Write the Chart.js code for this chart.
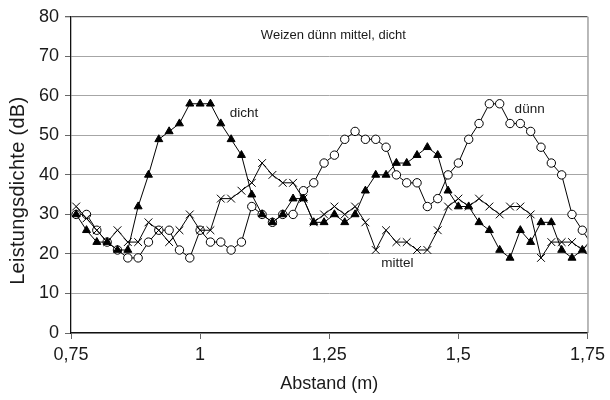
<!DOCTYPE html>
<html>
<head>
<meta charset="utf-8">
<script src="https://cdn.jsdelivr.net/npm/chart.js@4/dist/chart.umd.min.js"></script>
<style>
  html, body { margin: 0; padding: 0; background: #fff; }
  #wrap { width: 610px; height: 400px; }
</style>
</head>
<body>
<div id="wrap"><canvas id="c" width="610" height="400"></canvas></div>
<script>
// Abstand (m): 0.76 ... 1.76 in 0.02 steps (last point runs past the axis end and is clipped)
const abstand = [0.76,0.78,0.80,0.82,0.84,0.86,0.88,0.90,0.92,0.94,
                 0.96,0.98,1.00,1.02,1.04,1.06,1.08,1.10,1.12,1.14,
                 1.16,1.18,1.20,1.22,1.24,1.26,1.28,1.30,1.32,1.34,
                 1.36,1.38,1.40,1.42,1.44,1.46,1.48,1.50,1.52,1.54,
                 1.56,1.58,1.60,1.62,1.64,1.66,1.68,1.70,1.72,1.74,1.76];

const dicht  = [30,26,23,23,21,21,32,40,49,51,
                53,58,58,58,53,49,45,35,30,28,
                30,34,34,28,28,30,28,30,36,40,
                40,43,43,45,47,45,36,32,32,28,
                26,21,19,26,23,28,28,21,19,21,24];

const duenn  = [30,30,26,23,21,19,19,23,26,26,
                21,19,26,23,23,21,23,32,30,28,
                30,30,36,38,43,45,49,51,49,49,
                47,40,38,38,32,34,40,43,49,53,
                58,58,53,53,51,47,43,40,30,26,22];

const mittel = [32,29,26,23,26,23,23,28,26,23,
                26,30,26,26,34,34,36,38,43,40,
                38,38,34,28,30,32,30,32,28,21,
                26,23,23,21,21,26,32,34,32,34,
                32,30,32,32,30,19,23,23,23,21,19];

const xTickLabels = ['0,75','1','1,25','1,5','1,75'];
const yTickLabels = ['0','10','20','30','40','50','60','70','80'];

const chartTitle = 'Weizen dünn mittel, dicht';
const seriesNames = ['dicht','dünn','mittel'];
const xAxisTitle = 'Abstand (m)';
const yAxisTitle = 'Leistungsdichte (dB)';

function pts(ys) { return abstand.map((x, i) => ({ x: x, y: ys[i] })); }

const FONT = "'Liberation Sans', Arial, sans-serif";

// text labels placed in data coordinates
const annotations = [
  { text: chartTitle,     x: 1.258, y: 75.3, size: 13 },
  { text: seriesNames[0], x: 1.085, y: 55.5, size: 13.5 },
  { text: seriesNames[1], x: 1.638, y: 56.7, size: 13.5 },
  { text: seriesNames[2], x: 1.382, y: 17.6, size: 13.5 }
];

const annotPlugin = {
  id: 'annot',
  afterDatasetsDraw(chart) {
    const { ctx, scales, chartArea } = chart;
    ctx.save();
    // right frame line
    ctx.strokeStyle = '#8a8a8a';
    ctx.lineWidth = 1.2;
    ctx.beginPath();
    ctx.moveTo(chartArea.right + 0.5, chartArea.top);
    ctx.lineTo(chartArea.right + 0.5, chartArea.bottom);
    ctx.stroke();
    ctx.fillStyle = '#1a1a1a';
    ctx.textAlign = 'center';
    ctx.textBaseline = 'middle';
    annotations.forEach(a => {
      ctx.font = a.size + 'px ' + FONT;
      ctx.fillText(a.text, scales.x.getPixelForValue(a.x), scales.y.getPixelForValue(a.y));
    });
    // y axis title (vertical)
    ctx.font = '20px ' + FONT;
    try { ctx.letterSpacing = '0.3px'; } catch (e) {}
    ctx.translate(18, scales.y.getPixelForValue(36));
    ctx.rotate(-Math.PI / 2);
    ctx.fillText(yAxisTitle, 0, 0);
    ctx.restore();
  }
};

new Chart(document.getElementById('c'), {
  type: 'scatter',
  data: {
    datasets: [
      { label: seriesNames[0], data: pts(dicht), showLine: true, order: 1,
        borderColor: '#000', borderWidth: 1, backgroundColor: '#000',
        pointStyle: 'triangle', pointRadius: 4.6, pointBorderWidth: 1,
        pointBackgroundColor: '#000', pointBorderColor: '#000' },
      { label: seriesNames[1], data: pts(duenn), showLine: true, order: 3,
        borderColor: '#000', borderWidth: 1, backgroundColor: '#fff',
        pointStyle: 'circle', pointRadius: 4.2, pointBorderWidth: 1,
        pointBackgroundColor: '#fff', pointBorderColor: '#000' },
      { label: seriesNames[2], data: pts(mittel), showLine: true, order: 2,
        borderColor: '#000', borderWidth: 1, backgroundColor: '#000',
        pointStyle: 'crossRot', pointRadius: 5.5, pointBorderWidth: 1,
        pointBorderColor: '#000' }
    ]
  },
  options: {
    responsive: false,
    animation: false,
    events: [],
    layout: { padding: { top: 15, right: 20, left: 0, bottom: 0 } },
    plugins: { legend: { display: false }, tooltip: { enabled: false }, title: { display: false } },
    scales: {
      x: {
        type: 'linear', min: 0.75, max: 1.75,
        afterFit(scale) { scale.height = 67; },
        afterBuildTicks(scale) {
          scale.ticks = xTickLabels.map((t, i) => ({ value: 0.75 + 0.25 * i }));
        },
        ticks: {
          callback: (v, i) => xTickLabels[i],
          font: { family: FONT, size: 18 }, color: '#1a1a1a', padding: 5, maxRotation: 0
        },
        grid: { drawOnChartArea: false, drawTicks: true, tickLength: 6, tickColor: '#666' },
        border: { display: true, color: '#111', width: 1.3 },
        title: { display: true, text: xAxisTitle, font: { family: FONT, size: 18 },
                 color: '#1a1a1a', padding: { top: 0, bottom: 5 } }
      },
      y: {
        min: 0, max: 80,
        afterFit(scale) { scale.width = 71; },
        afterBuildTicks(scale) {
          scale.ticks = yTickLabels.map((t, i) => ({ value: 10 * i }));
        },
        ticks: {
          callback: (v, i) => yTickLabels[i],
          font: { family: FONT, size: 18 }, color: '#1a1a1a', padding: 6
        },
        grid: {
          color: (c) => (c.tick && c.tick.value === 80) ? '#555' : '#a6a6a6',
          lineWidth: (c) => (c.tick && c.tick.value === 80) ? 1.3 : 1,
          drawTicks: true, tickLength: 6, tickColor: '#666'
        },
        border: { display: true, color: '#111', width: 1.3 },
        title: { display: false }
      }
    }
  },
  plugins: [annotPlugin]
});
</script>
</body>
</html>
